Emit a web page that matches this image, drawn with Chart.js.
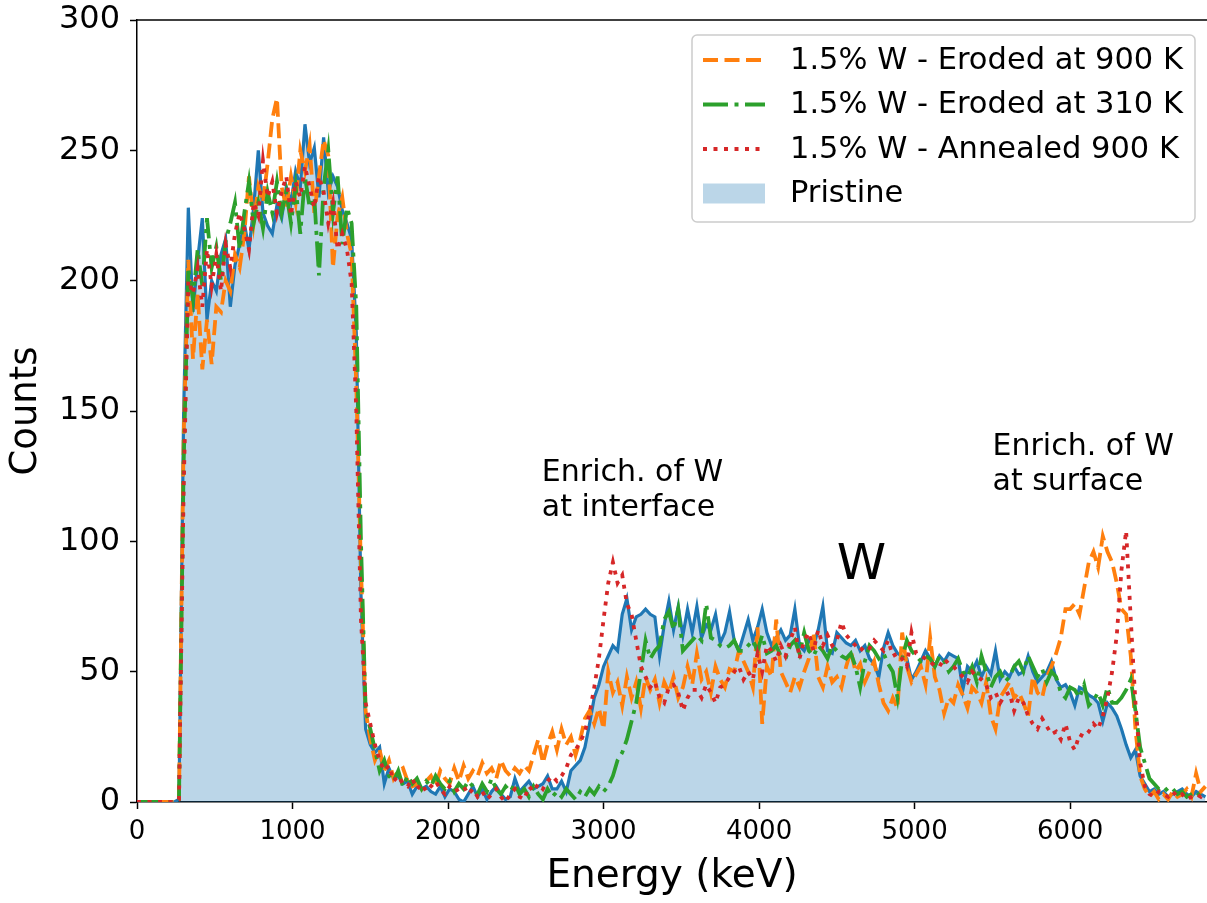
<!DOCTYPE html>
<html>
<head>
<meta charset="utf-8">
<script src="https://cdn.jsdelivr.net/npm/chart.js@4/dist/chart.umd.min.js"></script>
<style>
  html, body { margin: 0; padding: 0; background: #fff; }
  #wrap { width: 1207px; height: 903px; }
</style>
</head>
<body>
<div id="wrap"><canvas id="rbsChart" width="1207" height="903"></canvas></div>
<script>
// channel energies in keV (30 keV per channel)
const energy = [];
for (let i = 0; i < 230; i++) energy.push(i * 30);

const xTicks = [0, 1000, 2000, 3000, 4000, 5000, 6000];
const yTicks = [0, 50, 100, 150, 200, 250, 300];

const pristine = [
  0, 0, 0, 0, 0, 0, 0, 0, 0, 1,
  150, 228, 188, 208, 224, 185, 200, 196, 210, 216,
  190, 206, 214, 222, 212, 228, 250, 226, 221, 218,
  229, 224, 236, 230, 242, 236, 260, 245, 251, 232,
  255, 234, 240, 236, 227, 222, 216, 180, 80, 28,
  22, 19, 21, 7, 13, 9, 10, 7, 8, 3,
  6, 5, 6, 4, 3, 6, 2, 5, 4, 1,
  0, 3, 6, 2, 5, 1, 4, 6, 3, 1,
  2, 9, 4, 6, 8, 5, 6, 7, 10, 5,
  5, 8, 4, 12, 14, 16, 21, 30, 40, 45,
  52, 56, 60, 58, 72, 78, 66, 71, 72, 74,
  72, 71, 56, 68, 77, 66, 75, 64, 74, 65,
  75, 63, 68, 66, 72, 61, 65, 73, 62, 58,
  64, 70, 62, 67, 74, 65, 60, 63, 66, 62,
  64, 74, 60, 58, 62, 60, 66, 75, 58, 57,
  65, 63, 61, 60, 62, 58, 60, 55, 53, 48,
  59, 65, 60, 57, 56, 55, 47, 50, 54, 58,
  55, 52, 56, 54, 57, 56, 55, 43, 52, 50,
  54, 48, 52, 49, 58, 47, 50, 48, 52, 49,
  50, 56, 50, 46, 48, 50, 54, 47, 44, 45,
  42, 37, 44, 43, 41, 40, 38, 31, 38, 36,
  33, 28, 22, 17, 20, 10, 7, 4, 5, 3,
  4, 2, 3, 4, 5, 3, 2, 4, 3, 2
];

const eroded900 = [
  0, 0, 0, 0, 0, 0, 0, 0, 0, 1,
  140, 208, 170, 195, 166, 185, 168, 190, 188, 200,
  196, 210, 205, 218, 240, 222, 236, 230, 245, 262,
  270, 236, 228, 240, 230, 250, 242, 252, 226, 240,
  254, 248, 205, 225, 232, 218, 210, 160, 90, 35,
  24, 16, 20, 12, 16, 9, 12, 13, 8, 6,
  7, 5, 8, 10, 6, 12, 9, 7, 13, 8,
  14, 9, 12, 10, 15, 11, 13, 9, 16, 12,
  10, 13, 11, 14, 12, 18, 24, 15, 22, 27,
  20, 28, 22, 25, 18, 24, 32, 35, 30, 36,
  28, 50, 42, 46, 37, 48, 40, 46, 36, 48,
  43, 47, 38, 46, 42, 48, 40, 44, 52, 45,
  57, 47, 50, 42, 52, 47, 44, 51, 50, 58,
  54, 50, 44, 67, 30, 52, 48, 70, 50, 46,
  42, 48, 44, 50, 55, 65, 48, 44, 52, 46,
  48, 44, 52, 58, 50, 53, 46, 50, 54, 45,
  38, 35, 40, 36, 65, 52, 46, 49, 52, 45,
  63, 48, 43, 34, 40, 38, 45, 41, 36, 44,
  42, 38, 46, 33, 28, 40, 43, 46, 40, 42,
  38, 33, 48, 42, 40, 48, 52, 57, 63, 74,
  74, 76, 72, 82, 92, 96, 90, 102, 96, 92,
  84, 74, 72, 56, 28, 10, 5, 2, 4, 1,
  3, 1, 4, 2, 3, 5, 2, 11, 4, 6
];

const eroded310 = [
  0, 0, 0, 0, 0, 0, 0, 0, 0, 1,
  130, 205, 193, 212, 198, 224, 205, 213, 200, 215,
  222, 230, 212, 226, 238, 222, 230, 220, 234, 226,
  238, 226, 234, 222, 236, 218, 240, 228, 232, 202,
  236, 250, 226, 240, 214, 228, 222, 190, 100, 35,
  28, 20, 12, 16, 10, 8, 12, 6, 10, 7,
  9, 5, 8, 6, 10, 7, 5, 8, 4, 7,
  5, 8, 6, 3, 7, 4, 9, 5, 3, 6,
  4, 7, 3, 5, 2, 6, 3, 1, 5, 2,
  4, 2, 5, 3, 1, 4, 2, 5, 3, 6,
  4, 6, 10, 16, 19, 24, 31, 38, 50, 62,
  55, 58, 60, 70, 73, 66, 74, 58, 60, 62,
  64, 62, 76, 63, 62, 60, 59, 60, 62, 58,
  58, 60, 62, 58, 64, 57, 58, 60, 56, 55,
  60, 62, 57, 65, 58, 56, 60, 58, 55, 60,
  58, 56, 55, 57, 52, 44, 54, 60, 58, 55,
  57, 53, 50, 40, 55, 62, 58, 56, 54, 56,
  55, 52, 56, 54, 50, 52, 55, 50, 48, 52,
  46, 56, 50, 44, 48, 50, 46, 48, 52, 54,
  50, 56, 52, 48, 51, 46, 50, 48, 42, 40,
  44, 43, 40, 45, 37, 39, 42, 37, 44, 38,
  38, 40, 43, 47, 35, 21, 15, 9, 7, 5,
  6, 4, 5, 3, 4, 2, 3, 4, 2, 3
];

const annealed900 = [
  0, 0, 0, 0, 0, 0, 0, 0, 0, 1,
  120, 200, 195, 205, 190, 212, 198, 210, 196, 214,
  205, 218, 226, 220, 212, 230, 225, 246, 232, 238,
  226, 234, 240, 225, 238, 232, 244, 236, 228, 240,
  234, 222, 230, 212, 218, 212, 199, 150, 70, 38,
  30, 22, 16, 12, 14, 8, 10, 7, 6, 9,
  5, 7, 4, 6, 8, 5, 3, 6, 4, 5,
  6, 3, 5, 2, 4, 1, 3, 5, 2, 0,
  3, 5, 2, 1, 6, 4, 7, 5, 8, 10,
  8, 10, 13, 18, 20, 23, 27, 34, 44, 55,
  70, 84, 92, 84, 87, 76, 72, 62, 52, 48,
  44, 46, 40, 38, 44, 45, 42, 35, 40, 43,
  43, 40, 45, 42, 38, 44, 45, 48, 50, 52,
  47, 50, 47, 57, 50, 60, 58, 54, 60, 56,
  62, 67, 55, 62, 65, 58, 66, 60, 64, 60,
  62, 69, 64, 62, 60, 58, 60, 59, 62, 60,
  58, 62, 56, 57, 55, 52, 65, 57, 56, 55,
  54, 52, 52, 55, 53, 52, 50, 48, 46, 50,
  48, 47, 45, 40, 42, 38, 41, 42, 35, 40,
  38, 33, 30, 28, 32, 29, 26, 27, 24, 30,
  23, 20, 26, 25, 27, 30, 28, 33, 40, 50,
  64, 89, 104, 70, 38, 15, 6, 3, 2, 4,
  3, 2, 4, 2, 3, 1, 2, 3, 2, 4
];

const seriesNames = [
  "1.5% W - Eroded at 900 K",
  "1.5% W - Eroded at 310 K",
  "1.5% W - Annealed 900 K",
  "Pristine"
];
const notes = [
  { text: ["Enrich. of W", "at interface"], at: [2603, 132] },
  { text: ["W"], at: [4500, 100] },
  { text: ["Enrich. of W", "at surface"], at: [5501, 142] }
];

const BLUE = "#1f77b4", ORANGE = "#ff7f0e", GREEN = "#2ca02c", RED = "#d62728";
const FILL = "rgba(31, 119, 180, 0.3)";
const FONT = "'DejaVu Sans', sans-serif";

const legendItems = [
  { label: seriesNames[0], color: ORANGE, dash: [15, 6.5] },
  { label: seriesNames[1], color: GREEN, dash: [25, 6.5, 4, 6.5] },
  { label: seriesNames[2], color: RED, dash: [4, 6.5] },
  { label: seriesNames[3], patch: FILL }
];

const overlay = {
  id: "overlay",
  afterDatasetsDraw(chart) {
    const { ctx, chartArea, scales } = chart;
    ctx.save();
    // top spine
    ctx.strokeStyle = "#000";
    ctx.lineWidth = 1.5;
    ctx.beginPath();
    ctx.moveTo(chartArea.left, chartArea.top);
    ctx.lineTo(chartArea.right, chartArea.top);
    ctx.stroke();

    // text notes
    ctx.fillStyle = "#000";
    ctx.textBaseline = "top";
    ctx.textAlign = "left";
    for (const n of notes) {
      const x = scales.x.getPixelForValue(n.at[0]);
      const y = scales.y.getPixelForValue(n.at[1]);
      if (n.text.length === 1) {
        ctx.font = "50px " + FONT;
        ctx.fillText(n.text[0], x, y);
      } else {
        ctx.font = "30px " + FONT;
        n.text.forEach((t, k) => ctx.fillText(t, x, y + k * 35));
      }
    }

    // legend box
    const bx = 692, by = 35, bw = 503, bh = 187;
    ctx.fillStyle = "rgba(255,255,255,0.8)";
    ctx.strokeStyle = "#cccccc";
    ctx.lineWidth = 1.5;
    ctx.beginPath();
    ctx.roundRect(bx, by, bw, bh, 5);
    ctx.fill();
    ctx.stroke();
    ctx.font = "30.5px " + FONT;
    ctx.textBaseline = "middle";
    legendItems.forEach((it, k) => {
      const y = 60 + k * 44.5;
      if (it.patch) {
        ctx.fillStyle = it.patch;
        ctx.fillRect(703, y - 10, 62, 20);
      } else {
        ctx.strokeStyle = it.color;
        ctx.lineWidth = 4;
        ctx.setLineDash(it.dash);
        ctx.beginPath();
        ctx.moveTo(703, y);
        ctx.lineTo(765, y);
        ctx.stroke();
        ctx.setLineDash([]);
      }
      ctx.fillStyle = "#000";
      ctx.fillText(it.label, 790, y + 1);
    });
    ctx.restore();
  }
};

const lineStyle = { pointRadius: 0, tension: 0, fill: false, borderWidth: 3.8 };

new Chart(document.getElementById("rbsChart"), {
  type: "line",
  data: {
    labels: energy,
    datasets: [
      Object.assign({ label: seriesNames[2], data: annealed900, borderColor: RED, borderDash: [4, 6.5], order: 0 }, lineStyle),
      Object.assign({ label: seriesNames[1], data: eroded310, borderColor: GREEN, borderDash: [25, 6.5, 4, 6.5], order: 1 }, lineStyle),
      Object.assign({ label: seriesNames[0], data: eroded900, borderColor: ORANGE, borderDash: [15, 6.5], order: 2 }, lineStyle),
      Object.assign({ label: "pristine line", data: pristine, borderColor: BLUE, order: 3 }, lineStyle, { borderWidth: 3.2 }),
      { label: seriesNames[3], data: pristine, pointRadius: 0, tension: 0, borderWidth: 0,
        fill: "origin", backgroundColor: FILL, order: 4 }
    ]
  },
  options: {
    responsive: false,
    animation: false,
    devicePixelRatio: 1,
    layout: { padding: { top: 20, right: 0, left: 0, bottom: 0 } },
    plugins: { legend: { display: false }, tooltip: { enabled: false } },
    scales: {
      x: {
        type: "linear",
        min: 0,
        max: 6880,
        afterFit: (s) => { s.height = 101; s.paddingLeft = 0; s.paddingRight = 0; },
        afterBuildTicks: (s) => { s.ticks = xTicks.map((v) => ({ value: v })); },
        grid: { drawOnChartArea: false, drawTicks: true, tickLength: 7, tickColor: "#000", tickWidth: 1.5 },
        border: { color: "#000", width: 1.5 },
        ticks: { color: "#000", font: { family: FONT, size: 26 }, padding: 8, maxRotation: 0,
          callback: (v) => String(v) },
        title: { display: true, text: "Energy (keV)", color: "#000",
          font: { family: FONT, size: 39 }, padding: { top: 0, bottom: 3 } }
      },
      y: {
        min: 0,
        max: 300,
        afterFit: (s) => { s.width = 137; s.paddingTop = 0; s.paddingBottom = 0; },
        afterBuildTicks: (s) => { s.ticks = yTicks.map((v) => ({ value: v })); },
        grid: { drawOnChartArea: false, drawTicks: true, tickLength: 7, tickColor: "#000", tickWidth: 1.5 },
        border: { color: "#000", width: 1.5 },
        ticks: { color: "#000", font: { family: FONT, size: 32 }, padding: 10,
          callback: (v) => String(v) },
        title: { display: true, text: "Counts", color: "#000",
          font: { family: FONT, size: 37 }, padding: { top: 4, bottom: 0 } }
      }
    }
  },
  plugins: [overlay]
});
</script>
</body>
</html>
